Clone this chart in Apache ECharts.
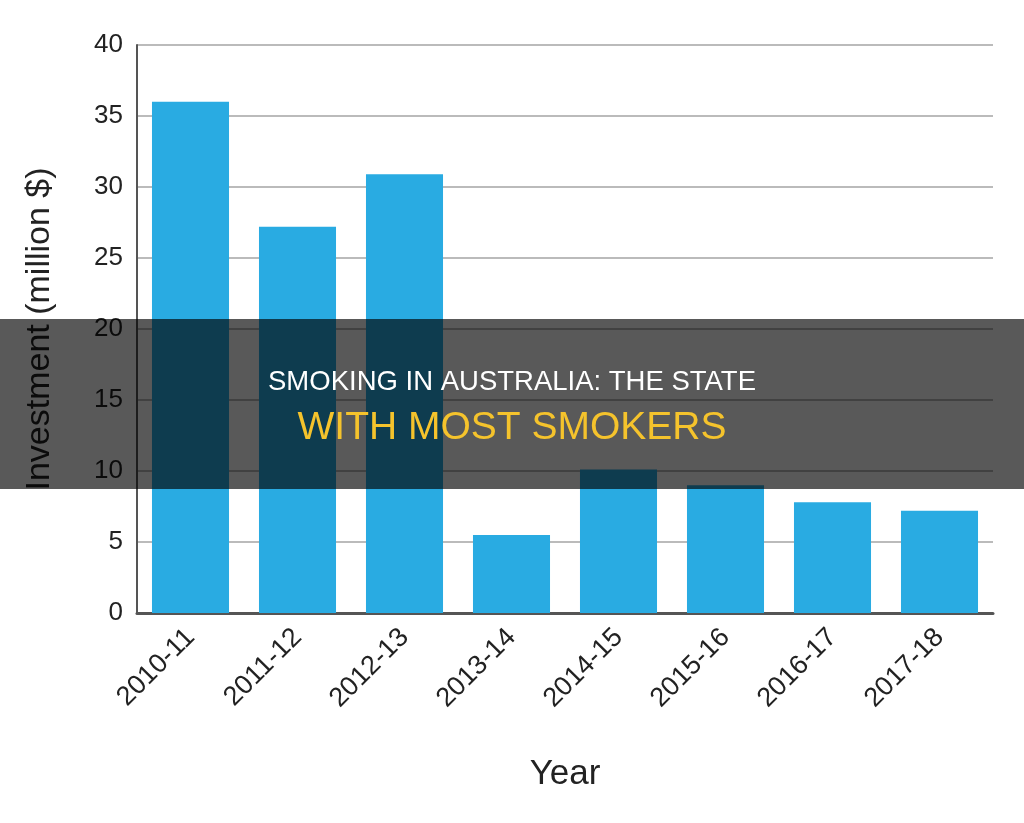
<!DOCTYPE html>
<html>
<head>
<meta charset="utf-8">
<script src="https://cdn.jsdelivr.net/npm/echarts@6/dist/echarts.min.js"></script>
<style>html,body{margin:0;padding:0;background:#fff}#c{width:1024px;height:823px}</style>
</head>
<body>
<div id="c"></div>
<script>
const categories = ['2010-11','2011-12','2012-13','2013-14','2014-15','2015-16','2016-17','2017-18'];
const investment = [36.0, 27.2, 30.9, 5.5, 10.1, 9.0, 7.8, 7.2];
const yTicks = [0, 5, 10, 15, 20, 25, 30, 35, 40];
const titleLine1 = 'SMOKING IN AUSTRALIA: THE STATE';
const titleLine2 = 'WITH MOST SMOKERS';

const chart = echarts.init(document.getElementById('c'), null, {renderer: 'canvas'});
const font = '"Liberation Sans", Helvetica, Arial, sans-serif';
chart.setOption({
  animation: false,
  backgroundColor: '#ffffff',
  grid: {left: 137, right: 31, top: 45, bottom: 210, containLabel: false},
  xAxis: {
    type: 'category',
    data: categories,
    name: 'Year',
    nameLocation: 'middle',
    nameGap: 144,
    nameTextStyle: {fontFamily: font, fontSize: 35, color: '#222'},
    axisLine: {show: true, lineStyle: {color: '#555', width: 3}},
    axisTick: {show: false},
    axisLabel: {rotate: 45, fontFamily: font, fontSize: 27, color: '#222', margin: 20},
    splitLine: {show: false}
  },
  yAxis: {
    type: 'value',
    min: 0, max: 40, interval: 5,
    name: 'Investment (million $)',
    nameLocation: 'middle',
    nameGap: 80,
    nameTextStyle: {fontFamily: font, fontSize: 34, color: '#222'},
    axisLine: {show: true, lineStyle: {color: '#555', width: 2}},
    axisTick: {show: false},
    axisLabel: {fontFamily: font, fontSize: 26, color: '#222', margin: 14,
      formatter: v => yTicks.includes(v) ? String(v) : ''},
    splitLine: {show: true, lineStyle: {color: '#a5a5a5', width: 1.5}}
  },
  series: [{
    type: 'bar',
    data: investment,
    barCategoryGap: '28%',
    itemStyle: {color: '#29abe2'}
  }],
  graphic: [
    {type: 'rect', left: 0, top: 319, z: 100, shape: {width: 1024, height: 170},
     style: {fill: 'rgba(0,0,0,0.65)'}},
    {type: 'text', left: 'center', top: 368, z: 101,
     style: {text: titleLine1, fill: '#ffffff', font: '27.5px ' + font}},
    {type: 'text', left: 'center', top: 409, z: 101,
     style: {text: titleLine2, fill: '#f5c32c', font: '39px ' + font}}
  ]
});
</script>
</body>
</html>
